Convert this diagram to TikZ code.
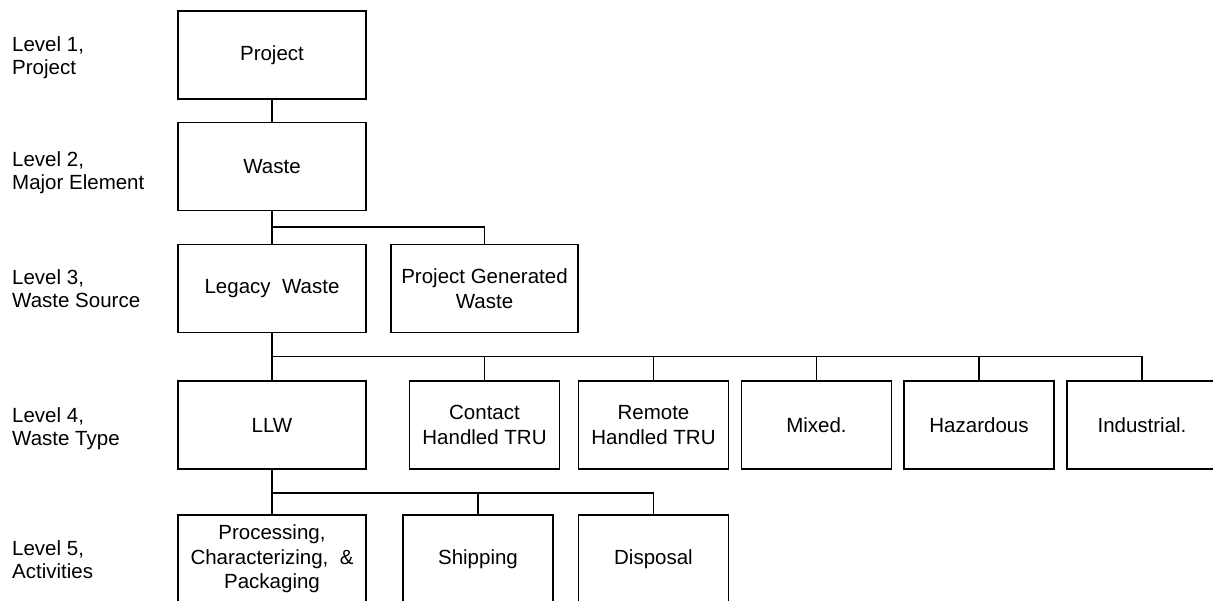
\documentclass[tikz,border=0pt]{standalone}
\usepackage{fontspec}
\setmainfont{Liberation Sans}
\begin{document}
\begin{tikzpicture}[x=1pt,y=-1pt,
  every node/.style={font=\fontsize{20.5}{24.5}\selectfont},
  wbs/.style={draw,line width=1.2pt,inner sep=0pt,align=center,
              minimum height=88pt},
  wide/.style={wbs,minimum width=188pt},
  narrow/.style={wbs,minimum width=150pt},
  lvl/.style={anchor=base west,inner sep=0pt},
  link/.style={line width=1.2pt}]
\useasboundingbox (0,0) rectangle (1213,601);
\clip (0,0) rectangle (1213,601);

% level captions
\newcommand{\lvltext}[2]{\vtop{\baselineskip=23pt\hbox{#1}\hbox{#2}}}
\node[lvl] (cap1) at (12,52)  {\lvltext{Level 1,}{Project}};
\node[lvl] (cap2) at (12,167) {\lvltext{Level 2,}{Major Element}};
\node[lvl] (cap3) at (12,285) {\lvltext{Level 3,}{Waste Source}};
\node[lvl] (cap4) at (12,423) {\lvltext{Level 4,}{Waste Type}};
\node[lvl] (cap5) at (12,555) {\lvltext{Level 5,}{Activities}};

% level 1 and 2
\node[wide] (project) at (272,55)    {Project};
\node[wide] (waste)   at (272,166.5) {Waste};

% level 3
\node[wide] (legacy) at (272,288.5)   {Legacy\ \ Waste};
\node[wide,minimum width=187pt] (pgw) at (484.5,288.5) {Project Generated\\Waste};

% level 4
\node[wide]   (llw)        at (272,425)    {LLW};
\node[narrow] (contact)    at (484.5,425)  {Contact\\Handled TRU};
\node[narrow] (remote)     at (653.5,425)  {Remote\\Handled TRU};
\node[narrow] (mixed)      at (816.5,425)  {Mixed.};
\node[narrow] (hazardous)  at (979,425)    {Hazardous};
\node[narrow] (industrial) at (1142,425)   {Industrial.};

% level 5
\node[wide]   (processing) at (272,559)   {Processing,\\Characterizing,\ \ \&\\Packaging};
\node[narrow] (shipping)   at (478,559)   {Shipping};
\node[narrow] (disposal)   at (653.5,559) {Disposal};

% bus heights
\coordinate (busA) at (0,227);
\coordinate (busB) at (0,356.5);
\coordinate (busC) at (0,493);

% connectors
\draw[link] (project.south) -- (waste.north);

\draw[link] (waste.south) -- (legacy.north);
\draw[link] (waste.south |- busA) -| (pgw.north);

\draw[link] (legacy.south) -- (llw.north);
\draw[link] (legacy.south |- busB) -| (industrial.north);
\foreach \n in {contact,remote,mixed,hazardous}
  \draw[link] (\n.north |- busB) -- (\n.north);

\draw[link] (llw.south) -- (processing.north);
\draw[link] (llw.south |- busC) -| (disposal.north);
\draw[link] (shipping.north |- busC) -- (shipping.north);
\end{tikzpicture}
\end{document}
